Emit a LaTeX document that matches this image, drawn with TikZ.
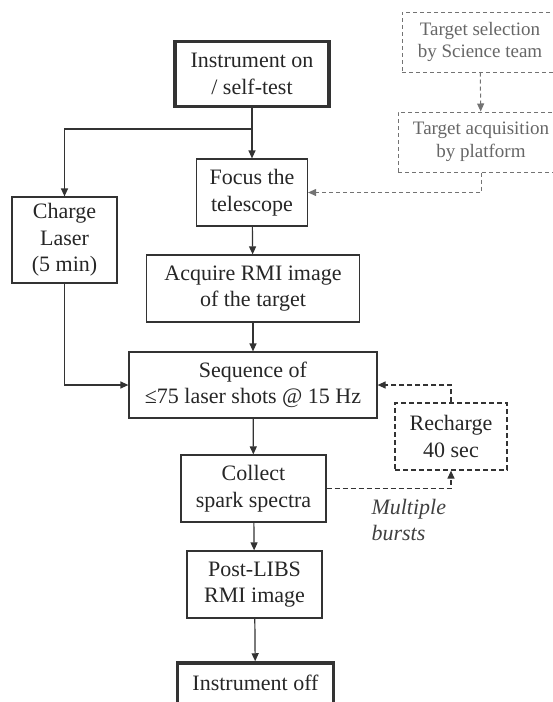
\documentclass[tikz,border=0pt]{standalone}
\usepackage{fontspec}
\setmainfont{Liberation Serif}
\usetikzlibrary{arrows.meta}
\begin{document}
\begin{tikzpicture}[x=1pt,y=-1pt,
    box/.style={draw=black!80,line width=1.2pt,align=center,inner sep=2pt,
        font=\fontsize{22}{26.5}\selectfont,text=black!85},
    endbox/.style={box,line width=3.5pt},
    dbox/.style={box,dash pattern=on 5pt off 3pt},
    tbox/.style={draw=black!55,dash pattern=on 4pt off 3pt,line width=1pt,align=center,inner sep=2pt,
        font=\fontsize{19}{22.5}\selectfont,text=black!60},
    flow/.style={draw=black!80,line width=1.2pt,-{Triangle[length=8pt,width=7pt]}},
    loop/.style={flow,dash pattern=on 5pt off 3pt},
    tflow/.style={draw=black!55,line width=1pt,dash pattern=on 4pt off 3pt,-{Triangle[length=8pt,width=7pt]}}]
    \useasboundingbox (0,0) rectangle (553,702);
    % main chain
    \node[endbox,minimum width=154pt,minimum height=65pt] (on) at (252,74) {Instrument on\\/ self-test};
    \node[box,minimum width=111pt,minimum height=67pt] (focus) at (252,192.5) {Focus the\\telescope};
    \node[box,minimum width=105pt,minimum height=86pt] (charge) at (64.5,240) {Charge\\Laser\\(5 min)};
    \node[box,minimum width=213pt,minimum height=67pt] (rmi) at (253,288.5) {Acquire RMI image\\of the target};
    \node[box,minimum width=248pt,minimum height=66pt] (seq) at (253,385) {Sequence of\\≤75 laser shots @ 15 Hz};
    \node[box,minimum width=145pt,minimum height=67pt] (coll) at (253.5,488.5) {Collect\\spark spectra};
    \node[box,minimum width=135pt,minimum height=67pt] (post) at (254.5,584.5) {Post-LIBS\\RMI image};
    \node[endbox,minimum width=156pt,minimum height=66pt] (off) at (255.5,696) {Instrument off\\~};
    % recharge loop
    \node[dbox,minimum width=112pt,minimum height=67pt] (rech) at (451,436.5) {Recharge\\40 sec};
    \node[anchor=west,align=left,font=\fontsize{22}{26.5}\selectfont\itshape,text=black!75] (burst) at (368,520) {Multiple\\bursts};
    % targeting
    \node[tbox,minimum width=156pt,minimum height=60pt] (sel) at (480,42) {Target selection\\by Science team};
    \node[tbox,minimum width=166pt,minimum height=60pt] (acq) at (481,142) {Target acquisition\\by platform};
    \coordinate (split) at (252,129);
    \draw[flow] (on.south) -- (focus.north);
    \draw[flow] (split) -| (charge.north);
    \draw[flow] (focus) -- (rmi);
    \draw[flow] (rmi) -- (seq);
    \draw[flow] (charge.south) |- (seq.west);
    \draw[flow] (seq) -- (coll);
    \draw[flow] (coll) -- (post);
    \draw[flow] (post) -- (off);
    \draw[loop] (coll.east) -| (rech.south);
    \draw[loop] (rech.north) |- (seq.east);
    \draw[tflow] (sel) -- (acq);
    \draw[tflow] (acq.south) |- (focus.east);
\end{tikzpicture}
\end{document}
